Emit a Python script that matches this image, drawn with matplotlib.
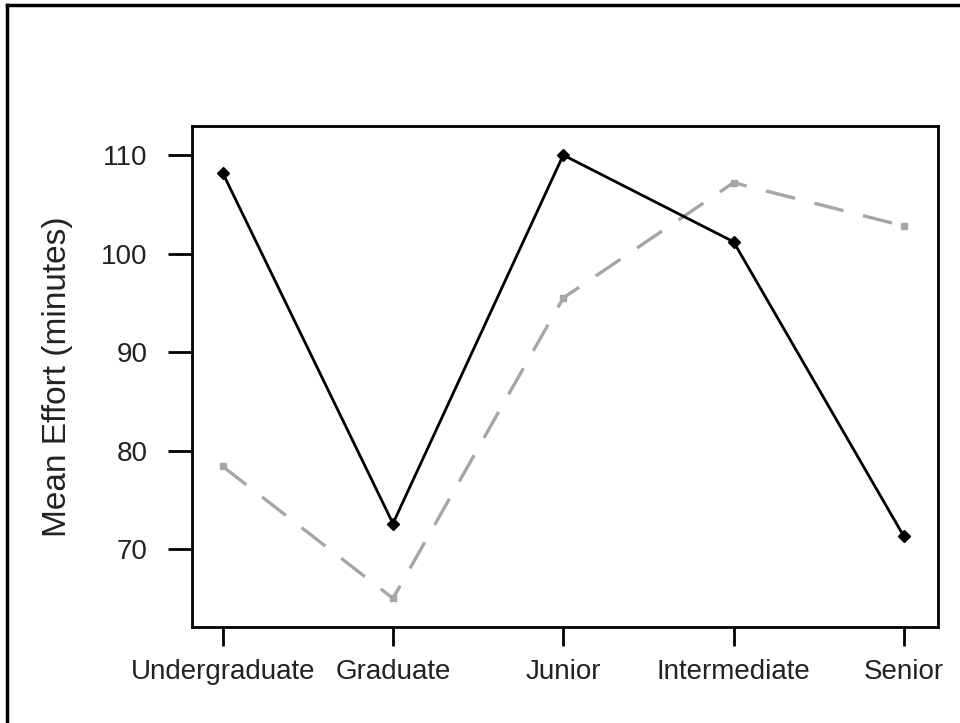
import matplotlib.pyplot as plt
from matplotlib.lines import Line2D

plt.rcParams['font.family'] = ['Liberation Sans', 'DejaVu Sans']

levels = ["Undergraduate", "Graduate", "Junior", "Intermediate", "Senior"]
effort_a = [108.2, 72.6, 110.0, 101.2, 71.3]
effort_b = [78.4, 65.0, 95.5, 107.2, 102.8]
yticks = [70, 80, 90, 100, 110]

fig = plt.figure(figsize=(9.6, 7.23), dpi=100)
ax = fig.add_axes([0.2, 0.1328, 0.777, 0.6929])

x = list(range(len(levels)))
ax.plot(x, effort_b, color="#a6a6a6", lw=2.4, dashes=(9, 6),
        marker="s", ms=4, mec="#a6a6a6", mfc="#a6a6a6")
ax.plot(x, effort_a, color="black", lw=2.0,
        marker="D", ms=6, mec="black", mfc="black")

ax.set_xlim(-0.18, 4.2)
ax.set_ylim(62.1, 112.95)
ax.set_xticks(x)
ax.set_xticklabels(levels, fontsize=20, color="#222222")
ax.set_yticks(yticks)
ax.set_yticklabels([str(v) for v in yticks], fontsize=20, color="#222222")
ax.tick_params(axis="x", direction="out", length=14, width=2, pad=9)
ax.tick_params(axis="y", direction="out", length=17, width=2, pad=15)
for sp in ax.spines.values():
    sp.set_linewidth(2)
ax.set_ylabel("Mean Effort (minutes)", fontsize=24, color="#222222")
ax.yaxis.set_label_coords(-0.16, 0.5)

# frame lines along the top and left edges of the figure
fig.add_artist(Line2D([7 / 960, 1.0], [1 - 5 / 723, 1 - 5 / 723],
                      transform=fig.transFigure, color="black", lw=2.5))
fig.add_artist(Line2D([7 / 960, 7 / 960], [0.0, 1 - 5 / 723],
                      transform=fig.transFigure, color="black", lw=2.5))

fig.savefig("out.png", dpi=100)
